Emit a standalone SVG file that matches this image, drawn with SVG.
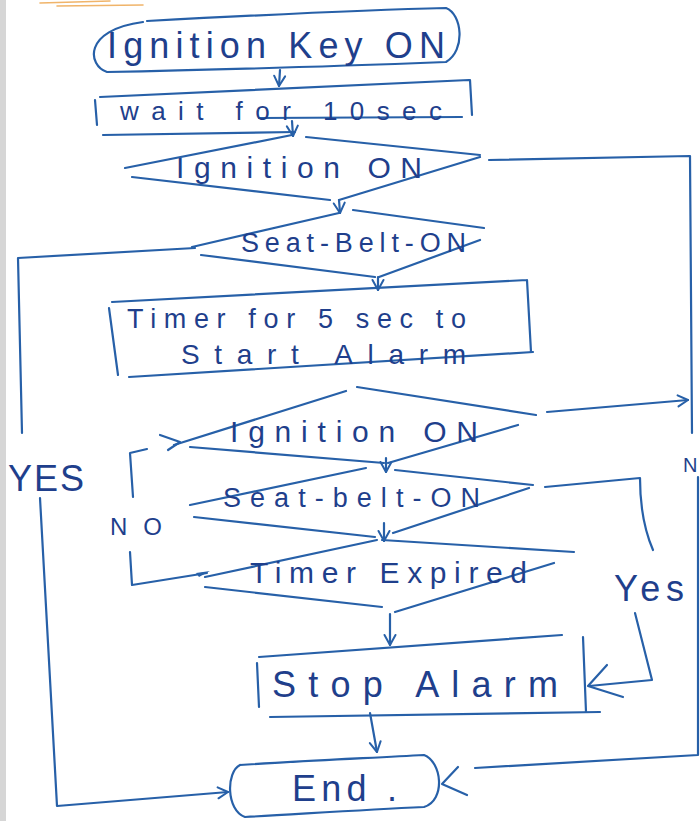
<svg xmlns="http://www.w3.org/2000/svg" width="700" height="821" viewBox="0 0 700 821">
  <style>
    .ink { fill: none; stroke: #2760a8; stroke-width: 2.2; stroke-linecap: round; stroke-linejoin: round; }
    .lbl { font-family: "Liberation Sans", "DejaVu Sans", sans-serif; fill: #1f3f8c; }
  </style>
  <defs>
    <marker id="arrow" viewBox="0 0 14 14" refX="12" refY="7" markerWidth="14" markerHeight="14" markerUnits="userSpaceOnUse" orient="auto">
      <path d="M2,1.5 L12,7 L2,12.5" fill="none" stroke="#2760a8" stroke-width="2" stroke-linecap="round" stroke-linejoin="round"/>
    </marker>
  </defs>

  <!-- paper -->
  <rect x="0" y="0" width="700" height="821" fill="#ffffff"/>
  <rect x="0" y="0" width="6" height="821" fill="#d6d6d6"/>
  <path d="M40,3 L110,1 M57,6 L143,5" fill="none" stroke="#f0b46a" stroke-width="1.6" stroke-linecap="round"/>

  <!-- nodes -->
  <g id="ignition-key-on">
    <path class="ink" d="M147,21 C260,15 360,10 446,8 C462,14 466,50 446,62 C340,66 220,70 107,72 C88,66 82,30 143,22"/>
    <text class="lbl" x="107" y="58" font-size="36" textLength="338" lengthAdjust="spacing">Ignition Key ON</text>
  </g>

  <g id="wait-10sec">
    <path class="ink" d="M100,97 L469,80 M470,80 L472,115 M95,100 L97,125 M259,118 L462,117 M103,135 L295,132"/>
    <text class="lbl" x="120" y="120" font-size="26" textLength="322" lengthAdjust="spacing">wait for 10sec</text>
  </g>

  <g id="ignition-on-1">
    <path class="ink" d="M125,168 L292,135 M306,137 L480,155 M480,157 L339,200 M132,177 L330,200"/>
    <text class="lbl" x="176" y="178" font-size="30" textLength="246" lengthAdjust="spacing">Ignition ON</text>
  </g>

  <g id="seat-belt-on-1">
    <path class="ink" d="M192,247 L339,213 M353,210 L484,228 M480,240 L379,277 M201,255 L375,277"/>
    <text class="lbl" x="241" y="252" font-size="27" textLength="225" lengthAdjust="spacing">Seat-Belt-ON</text>
  </g>

  <g id="timer-start-alarm">
    <path class="ink" d="M112,302 L527,280 M527,280 L531,352 M109,308 L118,375 M129,377 L533,352"/>
    <text class="lbl" x="127" y="328" font-size="27" textLength="339" lengthAdjust="spacing">Timer for 5 sec to</text>
    <text class="lbl" x="181" y="364" font-size="28" textLength="285" lengthAdjust="spacing">Start Alarm</text>
  </g>

  <g id="ignition-on-2">
    <path class="ink" d="M174,445 L346,391 M357,387 L536,415 M518,425 L388,463 M190,447 L384,463"/>
    <text class="lbl" x="230" y="442" font-size="30" textLength="248" lengthAdjust="spacing">Ignition ON</text>
  </g>

  <g id="seat-belt-on-2">
    <path class="ink" d="M190,505 L366,468 M395,470 L533,485 M529,488 L393,533 M194,517 L375,537"/>
    <text class="lbl" x="223" y="507" font-size="27" textLength="257" lengthAdjust="spacing">Seat-belt-ON</text>
  </g>

  <g id="timer-expired">
    <path class="ink" d="M205,577 L377,540 M382,540 L574,552 M554,563 L395,612 M205,587 L382,607"/>
    <text class="lbl" x="250" y="583" font-size="30" textLength="277" lengthAdjust="spacing">Timer Expired</text>
  </g>

  <g id="stop-alarm">
    <path class="ink" d="M259,657 L562,635 M257,663 L259,707 M583,637 L586,712 M270,717 L600,712"/>
    <text class="lbl" x="272" y="697" font-size="36" textLength="286" lengthAdjust="spacing">Stop Alarm</text>
  </g>

  <g id="end">
    <path class="ink" d="M240,765 C300,761 370,758 424,755 C442,762 446,800 424,807 C360,810 300,814 245,817 C226,810 226,772 240,765"/>
    <text class="lbl" x="292" y="801" font-size="36" textLength="105" lengthAdjust="spacing">End .</text>
  </g>

  <!-- connectors -->
  <g id="connectors">
    <path class="ink" d="M280,70 L279,86" marker-end="url(#arrow)"/>
    <path class="ink" d="M292,121 L293,136" marker-end="url(#arrow)"/>
    <path class="ink" d="M339,200 L340,213" marker-end="url(#arrow)"/>
    <path class="ink" d="M378,277 L378,290" marker-end="url(#arrow)"/>
    <path class="ink" d="M386,458 L386,472" marker-end="url(#arrow)"/>
    <path class="ink" d="M384,523 L384,541" marker-end="url(#arrow)"/>
    <path class="ink" d="M390,614 L390,645" marker-end="url(#arrow)"/>
    <path class="ink" d="M370,713 L377,752" marker-end="url(#arrow)"/>

    <!-- Ignition ON (first) : no branch down the right edge -->
    <path class="ink" d="M489,160 L690,156 L692,433"/>
    <!-- right edge continues down into End -->
    <path class="ink" d="M698,477 L698,755 L475,768"/>
    <path class="ink" d="M458,767 L442,784 L467,795"/>

    <!-- Seat-Belt-ON (first) : yes branch down the left edge -->
    <path class="ink" d="M195,248 L18,258 L22,433"/>
    <path class="ink" d="M40,498 L57,806 L228,792" marker-end="url(#arrow)"/>

    <!-- Ignition ON (second) : to the right edge -->
    <path class="ink" d="M547,412 L688,400" marker-end="url(#arrow)"/>

    <!-- Timer Expired : no loops back to Ignition ON -->
    <path class="ink" d="M207,573 L132,585 L130,552"/>
    <path d="M196,573 L210,571 L199,577 Z" fill="#2760a8"/>
    <path class="ink" d="M133,497 L130,453 L147,449 M160,435 L180,442 L168,450"/>

    <!-- Seat-belt-ON (second) : yes goes to Stop Alarm -->
    <path class="ink" d="M545,487 L640,478 Q640,520 653,550"/>
    <path class="ink" d="M635,613 L652,680 L589,686"/>
    <path class="ink" d="M607,665 L588,686 L623,697"/>
  </g>

  <!-- branch labels -->
  <text class="lbl" x="8" y="491" font-size="36" textLength="76" lengthAdjust="spacing">YES</text>
  <text class="lbl" x="110" y="535" font-size="24" textLength="52" lengthAdjust="spacing">NO</text>
  <text class="lbl" x="614" y="601" font-size="36" textLength="70" lengthAdjust="spacing">Yes</text>
  <text class="lbl" x="683" y="472" font-size="20">N</text>
</svg>
